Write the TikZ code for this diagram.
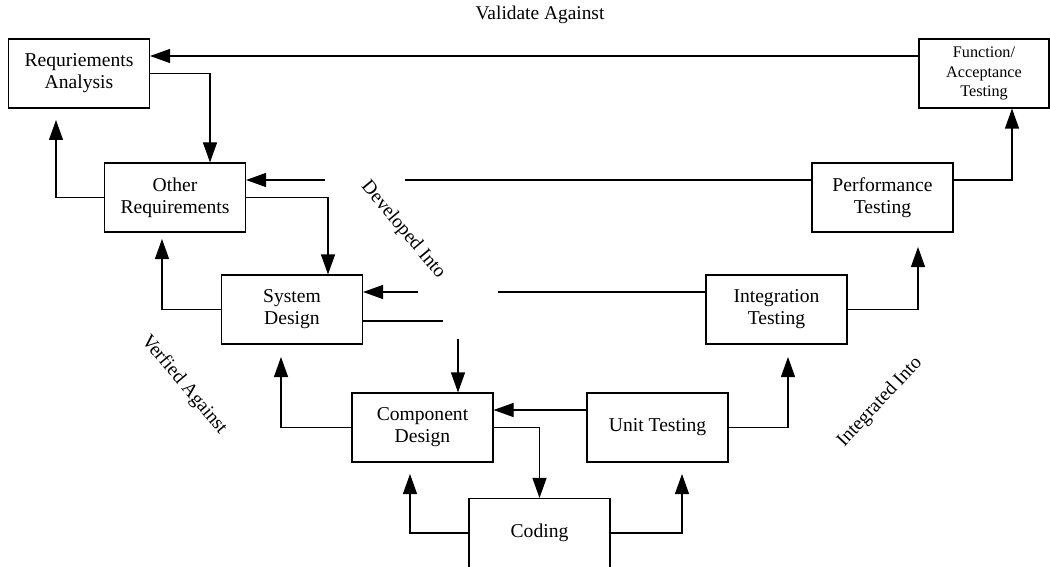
\documentclass[tikz,border=0pt]{standalone}
\usepackage{fontspec}
\setmainfont{Liberation Serif}
\usetikzlibrary{arrows.meta}
\begin{document}
\begin{tikzpicture}[x=1pt,y=-1pt,
  stage/.style={draw, line width=1.1pt, minimum width=141pt, minimum height=69pt,
    inner sep=2pt, align=center, font=\fontsize{19.6}{22}\selectfont},
  smallstage/.style={stage, minimum width=130pt, font=\fontsize{16.2}{19.3}\selectfont},
  link/.style={line width=1.1pt},
  flow/.style={link, -{Triangle[length=20pt,width=14pt]}},
  tag/.style={font=\fontsize{19.4}{22}\selectfont, inner sep=0pt}]
\clip (0,0) rectangle (1050,567);

% V-model stages
\node[stage] (ra)  at (79,73.5)    {Requriements\\Analysis};
\node[stage] (orq) at (175,197.5)  {Other\\Requirements};
\node[stage] (sd)  at (292,309.5)  {System\\Design};
\node[stage] (cd)  at (422.5,427.5) {Component\\Design};
\node[stage] (cod) at (539.5,533)  {Coding};
\node[stage] (ut)  at (657.5,427.5) {Unit Testing};
\node[stage] (it)  at (776.5,309.5) {Integration\\Testing};
\node[stage] (pt)  at (882.5,197.5) {Performance\\Testing};
\node[smallstage] (fa) at (984,73.5) {Function/\\Acceptance\\Testing};

% labels
\node[tag] (lval) at (540,15) {Validate Against};
\node[tag, rotate=-50] (ldev) at (403,230) {Developed Into};
\node[tag, rotate=-50] (lver) at (184,385) {Verfied Against};
\node[tag, rotate=47]  (lint) at (880,402) {Integrated Into};

% free ends of the connectors
\coordinate (raIn)   at (56,120);
\coordinate (orqIn)  at (162,239);
\coordinate (sdIn)   at (281,357);
\coordinate (cdIn)   at (410,474);
\coordinate (utIn)   at (682,474);
\coordinate (itIn)   at (788,357);
\coordinate (ptIn)   at (918,247);
\coordinate (ptCut)  at (405,180);
\coordinate (orqCut) at (325,180);
\coordinate (itCut)  at (498,292);
\coordinate (sdCut)  at (418,292);
\coordinate (sdOut)  at (443,321);
\coordinate (cdCut)  at (458,339);

% left branch: development
\draw[flow] (ra.east) -| ([xshift=35pt]orq.north);
\draw[flow] (orq.east) -| ([xshift=36pt]sd.north);
\draw[link] ([yshift=-11.5pt]sd.east) -- (sdOut);
\draw[flow] (cdCut) -- ([xshift=35.5pt]cd.north);
\draw[flow] (cd.east) -| (cod.north);

% verification back up the left branch
\draw[flow] (orq.west) -| (raIn);
\draw[flow] (sd.west) -| (orqIn);
\draw[flow] (cd.west) -| (sdIn);
\draw[flow] (cod.west) -| (cdIn);

% right branch: integration
\draw[flow] (cod.east) -| (utIn);
\draw[flow] (ut.east) -| (itIn);
\draw[flow] (it.east) -| (ptIn);
\draw[flow] ([yshift=17.5pt]pt.east) -| ([xshift=28pt]fa.south);

% links across the V
\draw[flow] ([yshift=17.5pt]fa.west) -- ([yshift=17.5pt]ra.east);
\draw[link] ([yshift=17.5pt]pt.west) -- (ptCut);
\draw[flow] (orqCut) -- ([yshift=17.5pt]orq.east);
\draw[link] ([yshift=17.5pt]it.west) -- (itCut);
\draw[flow] (sdCut) -- ([yshift=17.5pt]sd.east);
\draw[flow] ([yshift=17.5pt]ut.west) -- ([yshift=17.5pt]cd.east);
\end{tikzpicture}
\end{document}
